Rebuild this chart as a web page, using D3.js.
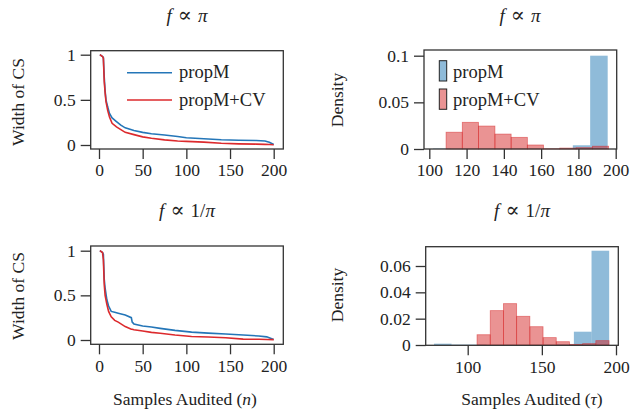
<!DOCTYPE html>
<html>
<head>
<meta charset="utf-8">
<script src="https://cdn.jsdelivr.net/npm/d3@7"></script>
<style>
  body { margin: 0; background: #fff; }
  svg text { font-family: "Liberation Serif", "DejaVu Serif", serif; fill: #222; }
</style>
</head>
<body>
<div id="chart"></div>
<script>
// line panels: samples audited (n) vs width of CS
var tlN    = [1, 4, 5, 6, 7, 8, 10, 12, 15, 20, 25, 30, 40, 50, 60, 75, 90, 100, 120, 140, 160, 180, 190, 195, 200];
var tlBlue = [1, 0.98, 0.97, 0.75, 0.6, 0.5, 0.42, 0.35, 0.3, 0.26, 0.22, 0.19, 0.16, 0.14, 0.125, 0.11, 0.095, 0.08, 0.07, 0.058, 0.053, 0.05, 0.045, 0.03, 0.005];
var tlRed  = [1, 0.98, 0.96, 0.7, 0.58, 0.48, 0.38, 0.31, 0.24, 0.2, 0.17, 0.14, 0.115, 0.09, 0.075, 0.057, 0.045, 0.04, 0.032, 0.02, 0.013, 0.01, 0.007, 0.005, 0.003];

var blN    = [1, 4, 5, 6, 7, 9, 11, 14, 18, 22, 30, 37, 38, 40, 50, 60, 70, 87, 106, 125, 145, 165, 183, 192, 200];
var blBlue = [1, 0.98, 0.96, 0.68, 0.58, 0.45, 0.38, 0.32, 0.31, 0.3, 0.28, 0.25, 0.2, 0.18, 0.157, 0.145, 0.13, 0.108, 0.088, 0.077, 0.067, 0.056, 0.045, 0.035, 0.005];
var blRed  = [1, 0.98, 0.9, 0.62, 0.5, 0.4, 0.32, 0.26, 0.22, 0.2, 0.15, 0.12, 0.12, 0.115, 0.1, 0.085, 0.075, 0.056, 0.04, 0.033, 0.026, 0.01, 0.008, 0.006, 0.004];

// histogram panels: stopping time (tau) densities
var trBlueEdges = [102, 111.4, 120.8, 130.1, 139.5, 148.9, 158.3, 167.6, 177, 186.3, 195.7];
var trBlueDens  = [0.0005, 0, 0, 0, 0, 0, 0, 0, 0.004, 0.1];
var trRedEdges  = [109, 117.7, 126.4, 135.2, 143.9, 152.6, 161.3, 170, 178.8, 187.5, 196.2];
var trRedDens   = [0.018, 0.0286, 0.0246, 0.016, 0.0125, 0.0043, 0.0003, 0.001, 0.0014, 0.003];

var brBlueEdges = [77.3, 89.1, 100.9, 112.7, 124.5, 136.4, 148.2, 160, 171.6, 183.5, 195.4];
var brBlueDens  = [0.001, 0.0003, 0.0003, 0, 0, 0, 0, 0.0004, 0.0101, 0.0716];
var brRedEdges  = [106.3, 115.2, 124.1, 133, 141.9, 150.8, 159.7, 168.6, 177.5, 186.4, 195.3];
var brRedDens   = [0.0078, 0.0261, 0.0314, 0.0218, 0.0139, 0.0056, 0.0025, 0.0005, 0.001, 0.0033];

var lineTicks = [0, 50, 100, 150, 200];
var widthTicks = [0, 0.5, 1];
var trXTicks = [100, 120, 140, 160, 180, 200];
var trYTicks = [0, 0.05, 0.1];
var brXTicks = [100, 150, 200];
var brYTicks = [0, 0.02, 0.04, 0.06];

var seriesNames = ["propM", "propM+CV"];
var blue = "#2476b8", red = "#dc2a2d";

var W = 633, H = 413, fs = 17.5;
var serif = "'Liberation Serif', 'DejaVu Serif', serif";
var svg = d3.select("#chart").append("svg").attr("width", W).attr("height", H);

function title(cx, y, inv) {
  var t = svg.append("text").attr("x", cx).attr("y", y).attr("text-anchor", "middle").style("font-size", "19px");
  t.append("tspan").style("font-style", "italic").text("f");
  t.append("tspan").attr("dx", 6).style("font-family", "'DejaVu Serif', serif").style("font-size", "21px").text("\u221D");
  if (inv) t.append("tspan").attr("dx", 6).text("1/");
  t.append("tspan").attr("dx", inv ? 0 : 6).style("font-style", "italic").text("\u03C0");
}

function frame(box, x, y, xt, yt, yFmt) {
  var g = svg.append("g");
  g.append("rect").attr("x", box[0]).attr("y", box[1]).attr("width", box[2] - box[0]).attr("height", box[3] - box[1])
    .attr("fill", "none").attr("stroke", "#333").attr("stroke-width", 1.3);
  var xa = g.append("g").attr("transform", "translate(0," + box[3] + ")")
    .call(d3.axisBottom(x).tickValues(xt).tickSize(10).tickPadding(5).tickFormat(d3.format("d")));
  var ya = g.append("g").attr("transform", "translate(" + box[0] + ",0)")
    .call(d3.axisLeft(y).tickValues(yt).tickSize(10).tickPadding(5).tickFormat(yFmt));
  [xa, ya].forEach(function(a) {
    a.attr("font-family", serif).attr("font-size", fs);
    a.select(".domain").remove();
    a.selectAll("line").attr("stroke", "#333").attr("stroke-width", 1.3);
    a.selectAll("text").attr("fill", "#222");
  });
  return g;
}

function ylabel(x, cy, txt) {
  svg.append("text").attr("transform", "translate(" + x + "," + cy + ") rotate(-90)")
    .attr("text-anchor", "middle").style("font-size", fs + "px").text(txt);
}

function xlabel(cx, y, sym) {
  var t = svg.append("text").attr("x", cx).attr("y", y).attr("text-anchor", "middle").style("font-size", fs + "px");
  t.append("tspan").text("Samples Audited (");
  t.append("tspan").style("font-style", "italic").text(sym);
  t.append("tspan").text(")");
}

function linePanel(box, yTop, yBot, ns, b, r, withLegend) {
  var x = d3.scaleLinear().domain([0, 200]).range([99, 273.7]);
  var y = d3.scaleLinear().domain([0, 1]).range([yBot, yTop]);
  frame(box, x, y, lineTicks, widthTicks, d3.format("~g"));
  var line = d3.line().x(function(d) { return x(d[0]); }).y(function(d) { return y(d[1]); });
  [[b, blue], [r, red]].forEach(function(s) {
    svg.append("path").datum(ns.map(function(n, i) { return [n, s[0][i]]; }))
      .attr("d", line).attr("fill", "none").attr("stroke", s[1]).attr("stroke-width", 1.6);
  });
  if (withLegend) {
    [blue, red].forEach(function(c, i) {
      var yy = 72.7 + i * 27.3;
      svg.append("line").attr("x1", 127).attr("x2", 172).attr("y1", yy).attr("y2", yy)
        .attr("stroke", c).attr("stroke-width", 1.6);
      svg.append("text").attr("x", 179).attr("y", yy + 5.5).style("font-size", "18.5px").text(seriesNames[i]);
    });
  }
}

function histPanel(box, xDom, xRange, yDom, yRange, xt, yt, yFmt, bE, bD, rE, rD, withLegend) {
  var x = d3.scaleLinear().domain(xDom).range(xRange);
  var y = d3.scaleLinear().domain(yDom).range(yRange);
  [[bE, bD, "rgba(31,119,180,0.5)", "none"], [rE, rD, "rgba(214,39,40,0.5)", "rgba(214,39,40,0.55)"]].forEach(function(s) {
    svg.append("g").selectAll("rect").data(s[1]).enter().append("rect")
      .attr("x", function(d, i) { return x(s[0][i]); })
      .attr("width", function(d, i) { return x(s[0][i + 1]) - x(s[0][i]); })
      .attr("y", function(d) { return y(d); })
      .attr("height", function(d) { return y(0) - y(d); })
      .attr("fill", s[2]).attr("stroke", s[3]).attr("stroke-width", 0.8);
  });
  frame(box, x, y, xt, yt, yFmt);
  if (withLegend) {
    ["rgba(31,119,180,0.5)", "rgba(214,39,40,0.5)"].forEach(function(c, i) {
      var yy = 60.7 + i * 28.3;
      svg.append("rect").attr("x", 439.3).attr("y", yy).attr("width", 7.4).attr("height", 20.3)
        .attr("fill", c).attr("stroke", "#222").attr("stroke-width", 1);
      svg.append("text").attr("x", 453).attr("y", yy + 17).style("font-size", "18.5px").text(seriesNames[i]);
    });
  }
}

title(187, 22, false);
title(520, 22, false);
title(187, 217, true);
title(522, 217, true);

linePanel([90.7, 50.7, 283.3, 149], 54.7, 145, tlN, tlBlue, tlRed, true);
linePanel([90.7, 246, 283.3, 344.3], 250.7, 340, blN, blBlue, blRed, false);

histPanel([424, 50, 616.7, 149], [100, 200], [429.3, 615.7], [0, 0.1], [149, 55.7],
  trXTicks, trYTicks, function(d) { return d === 0 ? "0" : d3.format("~g")(d); },
  trBlueEdges, trBlueDens, trRedEdges, trRedDens, true);
histPanel([425.7, 246.7, 618.3, 345.3], [100, 200], [467.7, 616], [0, 0.06], [345, 266],
  brXTicks, brYTicks, function(d) { return d === 0 ? "0" : d3.format(".2f")(d); },
  brBlueEdges, brBlueDens, brRedEdges, brRedDens, false);

ylabel(24, 102, "Width of CS");
ylabel(24, 296, "Width of CS");
ylabel(343, 100, "Density");
ylabel(343, 295, "Density");

xlabel(185, 405, "n");
xlabel(532, 405, "\u03C4");
</script>
</body>
</html>
